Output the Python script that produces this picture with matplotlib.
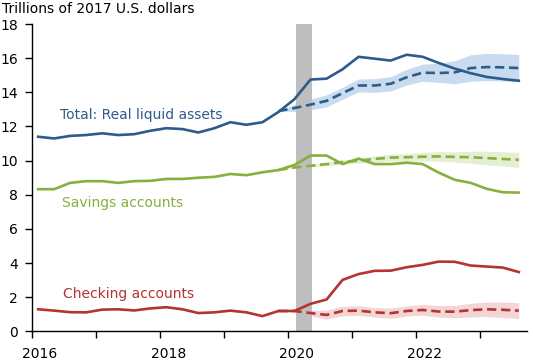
import numpy as np
import matplotlib
matplotlib.use("Agg")
import matplotlib.pyplot as plt

# quarterly observations, 2016Q1 .. 2023Q3
n_quarters = 31
forecast_start = 15  # index where the counterfactual path starts (2019Q4)

total = [11.4, 11.3, 11.45, 11.5, 11.6, 11.5, 11.55, 11.75, 11.9, 11.85, 11.65,
         11.9, 12.25, 12.1, 12.25, 12.85, 13.6, 14.75, 14.8, 15.35, 16.08, 15.97,
         15.86, 16.2, 16.08, 15.72, 15.39, 15.12, 14.9, 14.78, 14.68]
savings = [8.33, 8.33, 8.7, 8.8, 8.8, 8.7, 8.8, 8.82, 8.93, 8.93, 9.0,
           9.05, 9.22, 9.15, 9.32, 9.45, 9.75, 10.3, 10.3, 9.8, 10.12, 9.8,
           9.8, 9.88, 9.8, 9.3, 8.88, 8.7, 8.35, 8.15, 8.13]
checking = [1.3, 1.22, 1.13, 1.12, 1.28, 1.3, 1.23, 1.35, 1.42, 1.3, 1.08,
            1.12, 1.22, 1.12, 0.9, 1.2, 1.2, 1.62, 1.87, 3.02, 3.36, 3.55,
            3.56, 3.76, 3.9, 4.09, 4.08, 3.86, 3.8, 3.74, 3.48]

# counterfactual paths (dashed) with their bands, 2019Q4 .. 2023Q3
total_fc = [12.9, 13.08, 13.28, 13.5, 13.95, 14.4, 14.4, 14.5, 14.88, 15.15,
            15.13, 15.17, 15.42, 15.48, 15.46, 15.42]
total_hi = [12.9, 13.3, 13.6, 13.85, 14.3, 14.78, 14.8, 14.92, 15.35, 15.65,
            15.7, 15.85, 16.2, 16.28, 16.26, 16.22]
total_lo = [12.9, 12.88, 12.98, 13.15, 13.6, 14.02, 14.0, 14.08, 14.43, 14.65,
            14.58, 14.5, 14.65, 14.68, 14.66, 14.62]
savings_fc = [9.45, 9.6, 9.7, 9.8, 9.92, 10.0, 10.1, 10.18, 10.2, 10.23,
              10.25, 10.22, 10.2, 10.15, 10.1, 10.05]
savings_hi = [9.45, 9.65, 9.78, 9.9, 10.04, 10.15, 10.28, 10.38, 10.42, 10.48,
              10.53, 10.52, 10.55, 10.55, 10.52, 10.49]
savings_lo = [9.45, 9.55, 9.62, 9.7, 9.8, 9.85, 9.92, 9.98, 9.98, 9.98,
              9.97, 9.92, 9.85, 9.75, 9.68, 9.61]
checking_fc = [1.2, 1.2, 1.08, 0.97, 1.2, 1.22, 1.12, 1.07, 1.2, 1.26,
               1.17, 1.16, 1.25, 1.3, 1.27, 1.22]
checking_hi = [1.2, 1.25, 1.25, 1.25, 1.48, 1.5, 1.4, 1.37, 1.5, 1.58,
               1.52, 1.52, 1.65, 1.72, 1.72, 1.68]
checking_lo = [1.2, 1.15, 0.92, 0.72, 0.92, 0.94, 0.84, 0.77, 0.9, 0.96,
               0.84, 0.8, 0.85, 0.88, 0.82, 0.76]

recession = (2020.13, 2020.37)
year_labels = ["2016", "2018", "2020", "2022"]

blue = "#2D5C8C"
green = "#87B03E"
red = "#B53330"

x = 2016.1 + 0.25 * np.arange(n_quarters)
xf = x[forecast_start:]

fig = plt.figure(figsize=(5.33, 3.62), dpi=100)
ax = fig.add_axes([0.0595, 0.0843, 0.9295, 0.8494])

ax.axvspan(*recession, color="#BEBEBE", lw=0, zorder=1)

series = [
    (total, total_fc, total_lo, total_hi, blue, "#C9DBEF"),
    (savings, savings_fc, savings_lo, savings_hi, green, "#E5EFD4"),
    (checking, checking_fc, checking_lo, checking_hi, red, "#F3D5D5"),
]
for actual, fc, lo, hi, col, band in series:
    ax.fill_between(xf, lo, hi, color=band, lw=0, zorder=0)
    ax.plot(xf, fc, color=col, lw=1.9, ls=(0, (3.5, 1.8)), zorder=3)
    ax.plot(x, actual, color=col, lw=1.9, zorder=4)

ax.text(2017.71, 12.69, "Total: Real liquid assets", color=blue, fontsize=10,
        ha="center", va="center")
ax.text(2017.42, 7.55, "Savings accounts", color=green, fontsize=10,
        ha="center", va="center")
ax.text(2017.51, 2.22, "Checking accounts", color=red, fontsize=10,
        ha="center", va="center")

ax.set_xlim(2016, 2023.73)
ax.set_ylim(0, 18)
ax.set_yticks(range(0, 19, 2))
ax.set_xticks(range(2016, 2024))
ax.set_xticklabels([])
ax.set_xticks([int(y) + 0.13 for y in year_labels], minor=True)
ax.set_xticklabels(year_labels, minor=True)
ax.tick_params(axis="x", which="minor", length=0, pad=11)
ax.tick_params(axis="both", which="major", length=5, width=1, color="black",
               labelsize=10, direction="out")
ax.tick_params(axis="x", which="minor", labelsize=10)
ax.tick_params(axis="y", pad=5)

for side in ["top", "right"]:
    ax.spines[side].set_visible(False)
for side in ["left", "bottom"]:
    ax.spines[side].set_linewidth(1)
    ax.spines[side].set_color("black")

fig.text(0.003, 0.995, "Trillions of 2017 U.S. dollars", fontsize=10,
         ha="left", va="top")

fig.savefig("out.png", dpi=100)
